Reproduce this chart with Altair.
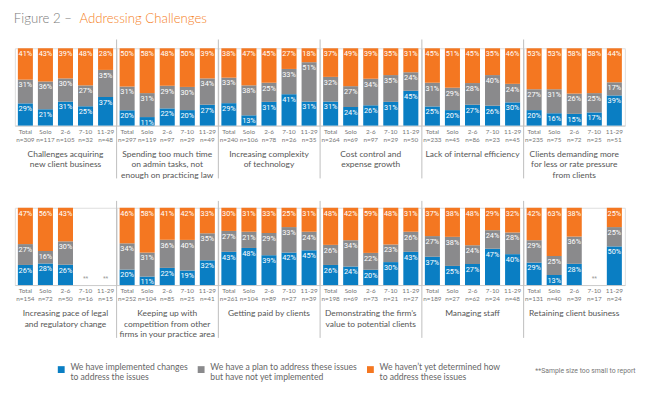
import altair as alt
import pandas as pd

# ---------------- data ----------------
panel_titles = [
    ["Challenges acquiring", "new client business"],
    ["Spending too much time", "on admin tasks, not", "enough on practicing law"],
    ["Increasing complexity", "of technology"],
    ["Cost control and", "expense growth"],
    ["Lack of internal efficiency"],
    ["Clients demanding more", "for less or rate pressure", "from clients"],
    ["Increasing pace of legal", "and regulatory change"],
    ["Keeping up with", "competition from other", "firms in your practice area"],
    ["Getting paid by clients"],
    ["Demonstrating the firm\u2019s", "value to potential clients"],
    ["Managing staff"],
    ["Retaining client business"],
]
groups = ["Total", "Solo", "2-6", "7-10", "11-29"]
n_values = [
    [309, 117, 105, 32, 48],
    [297, 119, 97, 29, 49],
    [240, 106, 78, 26, 35],
    [264, 69, 97, 29, 50],
    [233, 45, 86, 23, 45],
    [235, 75, 72, 25, 51],
    [154, 72, 50, 16, 15],
    [252, 104, 85, 25, 41],
    [261, 104, 89, 27, 39],
    [198, 69, 73, 21, 27],
    [189, 27, 62, 24, 48],
    [131, 40, 39, 17, 24],
]
implemented = [
    [29, 21, 31, 25, 37],
    [20, 11, 22, 20, 27],
    [29, 13, 31, 41, 31],
    [31, 24, 26, 31, 45],
    [25, 20, 27, 26, 30],
    [20, 16, 15, 17, 39],
    [26, 28, 26, None, None],
    [20, 11, 22, 19, 32],
    [43, 48, 39, 42, 45],
    [26, 24, 20, 30, 43],
    [37, 25, 27, 47, 40],
    [29, 13, 28, None, 50],
]
planned = [
    [31, 36, 30, 27, 35],
    [31, 31, 29, 30, 34],
    [33, 38, 25, 33, 51],
    [32, 27, 34, 35, 24],
    [31, 29, 28, 40, 24],
    [27, 31, 26, 25, 17],
    [27, 16, 30, None, None],
    [34, 31, 36, 40, 35],
    [27, 21, 29, 33, 24],
    [26, 34, 22, 23, 26],
    [27, 38, 24, 24, 28],
    [29, 25, 36, None, 25],
]
undetermined = [
    [41, 43, 39, 48, 28],
    [50, 58, 48, 50, 39],
    [38, 47, 45, 27, 18],
    [37, 49, 39, 35, 31],
    [45, 51, 45, 35, 46],
    [53, 53, 58, 58, 44],
    [47, 56, 43, None, None],
    [46, 58, 41, 42, 33],
    [30, 31, 33, 25, 31],
    [48, 42, 59, 48, 31],
    [37, 38, 48, 29, 32],
    [42, 63, 38, None, 25],
]
series_names = [
    "We have implemented changes|to address the issues",
    "We have a plan to address these issues|but have not yet implemented",
    "We haven\u2019t yet determined how|to address these issues",
]
series_colors = ["#0a7ec3", "#8a8a8c", "#f47721"]
figure_label = "Figure 2 \u2013 "
figure_title = "Addressing Challenges"
footnote = "**Sample size too small to report"

# ---------------- layout constants ----------------
W = 103.5
H = 79
LBL_FONT = "Lato"
BAR_FONT = "Liberation Sans Narrow, Roboto"

one = pd.DataFrame({"k": [0]})

legend = alt.Legend(
    title=None, orient="none", legendX=43, legendY=324, direction="horizontal",
    symbolType="square", symbolSize=49, symbolStrokeWidth=0, padding=0,
    labelFontSize=8.8, labelColor="#666666", labelFont=LBL_FONT,
    labelExpr="split(datum.label, '|')", labelBaseline="alphabetic",
    labelOffset=5, columnPadding=9, labelLimit=400,
)
color = alt.Color(
    "series:N",
    scale=alt.Scale(domain=series_names, range=series_colors),
    legend=legend,
)


def make_panel(k, row, col):
    rows = []
    for gi, g in enumerate(groups):
        lab = f"{g}|n={n_values[k][gi]}"
        for si, vals in enumerate([implemented, planned, undetermined]):
            rows.append({"xlab": lab, "ord": si, "series": series_names[si],
                         "value": vals[k][gi]})
    df = pd.DataFrame(rows)
    xorder = [f"{g}|n={n_values[k][gi]}" for gi, g in enumerate(groups)]
    xenc = alt.X(
        "xlab:N",
        scale=alt.Scale(domain=xorder, paddingInner=0.25, paddingOuter=0.15),
        axis=alt.Axis(title=None, labelExpr="split(datum.label, '|')", ticks=False,
                      domainColor="#cccccc", labelAngle=0, labelPadding=3,
                      labelLineHeight=8, labelFontSize=6.5, labelColor="#777777",
                      labelFont=LBL_FONT, labelOverlap=False),
    )
    base = alt.Chart(df)
    stacked = base.transform_filter("isValid(datum.value)").transform_stack(
        stack="value", as_=["y0", "y1"], groupby=["xlab"],
        sort=[alt.SortField("ord", order="ascending")], offset="normalize",
    )
    yenc = alt.Y("y0:Q", scale=alt.Scale(domain=[0, 1]), axis=None)
    bars = stacked.mark_bar().encode(x=xenc, y=yenc, y2="y1:Q", color=color)
    labels = stacked.transform_calculate(lab="datum.value + '%'").mark_text(
        color="white", fontSize=7.5, baseline="middle", dy=6, font=BAR_FONT,
    ).encode(x=xenc, y=alt.Y("y1:Q", scale=alt.Scale(domain=[0, 1]), axis=None),
             text="lab:N")
    missing = base.transform_filter("!isValid(datum.value) && datum.ord == 0").mark_text(
        text="**", color="#999999", fontSize=7, baseline="bottom", dy=-3,
    ).encode(x=xenc, y=alt.value(H))
    title = alt.Chart(one).mark_text(
        text=panel_titles[k], align="center", baseline="line-top", lineHeight=10.7,
        fontSize=8.6, color="#555555", font=LBL_FONT,
    ).encode(x=alt.value(W / 2), y=alt.value(H + 24))
    layers = [bars, labels, missing, title]
    if col > 0:
        top = -9 if row == 0 else -7
        sep = alt.Chart(one).mark_rule(color="#bdbdbd", strokeWidth=1).encode(
            x=alt.value(0), y=alt.value(top), y2=alt.value(H + 54))
        layers.insert(0, sep)
    if k == 0:
        layers.append(alt.Chart(one).mark_text(
            text=figure_label, align="left", baseline="alphabetic", fontSize=13.5,
            font=LBL_FONT, fontWeight=300, color="#7a7a7a",
        ).encode(x=alt.value(-1), y=alt.value(-25.5)))
        layers.append(alt.Chart(one).mark_text(
            text=figure_title, align="left", baseline="alphabetic", fontSize=13.5,
            font=LBL_FONT, fontWeight=300, color="#f58025",
        ).encode(x=alt.value(66), y=alt.value(-25.5)))
    if k == 11:
        layers.append(alt.Chart(one).mark_text(
            text=footnote, align="left", baseline="middle", fontSize=7,
            font=BAR_FONT, color="#777777",
        ).encode(x=alt.value(12), y=alt.value(167)))
    return alt.layer(*layers).properties(width=W, height=H)


panels = [make_panel(k, k // 6, k % 6) for k in range(12)]

chart = alt.concat(
    *panels, columns=6, spacing={"row": 84, "column": 0}, bounds="flush"
).resolve_scale(
    x="independent", y="independent", color="shared"
).properties(
    padding={"left": 5, "top": 0, "right": 5, "bottom": 0}
).configure_view(stroke=None).configure(background="white")

chart.save("out.html", embed_options={"renderer": "svg", "actions": False})
